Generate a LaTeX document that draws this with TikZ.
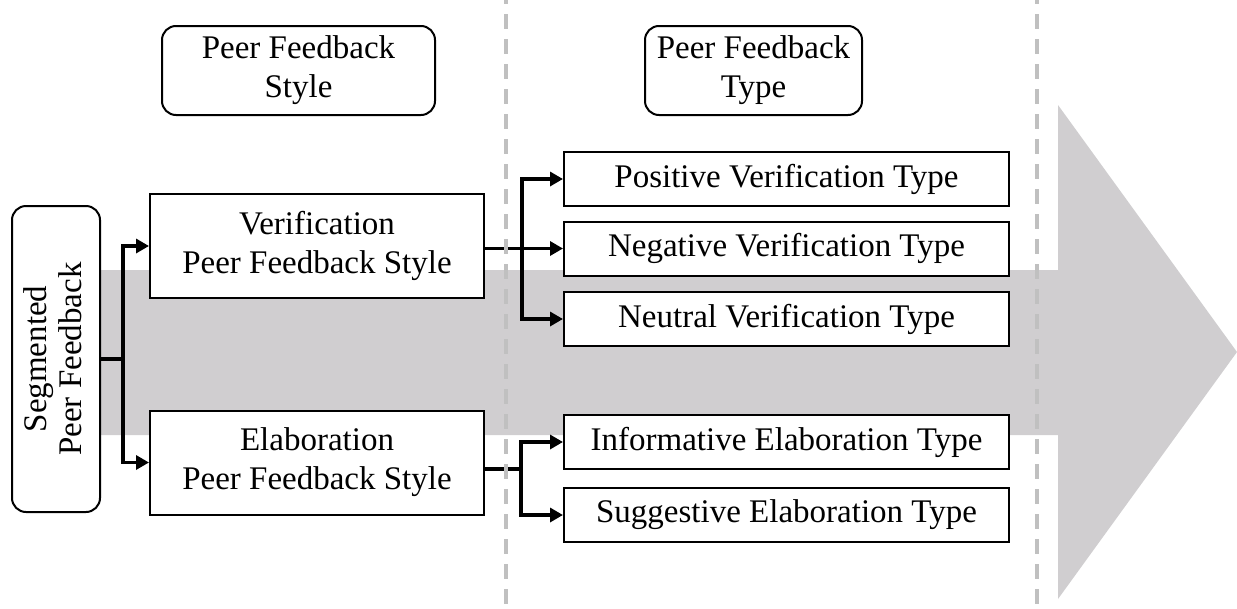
\documentclass[tikz,border=0pt]{standalone}
\usepackage{fontspec}
\setmainfont{Liberation Serif}
\usetikzlibrary{arrows.meta}
\definecolor{bandgray}{RGB}{208,206,208}
\definecolor{sepgray}{RGB}{192,192,192}
\begin{document}
\begin{tikzpicture}[x=1pt,y=-1pt,
  box/.style={draw=black,line width=2pt,fill=white,inner sep=0pt,align=center,font=\fontsize{33}{39}\selectfont},
  rbox/.style={box,rounded corners=14pt},
  typebox/.style={box,minimum width=445pt,minimum height=54pt},
  stylebox/.style={box,minimum width=334pt,minimum height=104pt},
  conn/.style={line width=3.5pt},
  arr/.style={conn,-{Triangle[length=13pt,width=14pt]}},
  sep/.style={draw=sepgray,line width=3.5pt,dash pattern=on 15pt off 10pt,dash phase=-14pt}]
\useasboundingbox (0,0) rectangle (1237,608);
% big gray arrow
\fill[bandgray] (40,270) -- (1058,270) -- (1058,105) -- (1237,352) -- (1058,599) -- (1058,435) -- (40,435) -- cycle;
% header boxes
\node[rbox,minimum width=273pt,minimum height=89pt] (pfs) at (298.5,70.5) {Peer Feedback\\Style};
\node[rbox,minimum width=217pt,minimum height=89pt] (pft) at (753.5,70.5) {Peer Feedback\\Type};
% left box
\node[rbox,minimum width=88pt,minimum height=306pt] (seg) at (56,359) {\rotatebox{90}{\begin{tabular}{@{}c@{}}Segmented\\[-4pt]Peer Feedback\end{tabular}}};
% style boxes
\node[stylebox] (verif) at (317,246) {Verification\\Peer Feedback Style};
\node[stylebox] (elab) at (317,462.5) {Elaboration\\Peer Feedback Style};
% type boxes
\node[typebox] (pos) at (786.5,179) {Positive Verification Type};
\node[typebox] (neg) at (786.5,248.5) {Negative Verification Type};
\node[typebox] (neu) at (786.5,319) {Neutral Verification Type};
\node[typebox] (inf) at (786.5,442) {Informative Elaboration Type};
\node[typebox] (sug) at (786.5,515) {Suggestive Elaboration Type};
% connectors
\coordinate (s1) at (123,359);
\draw[conn] (seg.east |- s1) -- (s1);
\draw[arr] (s1) |- (verif.west);
\draw[arr] (s1) |- (elab.west);
\coordinate (v1) at (522,248.5);
\draw[conn] (verif.east |- v1) -- (v1);
\draw[arr] (v1) |- (pos.west);
\draw[arr] (v1) -- (neg.west);
\draw[arr] (v1) |- (neu.west);
\coordinate (e1) at (521,469);
\draw[conn] (elab.east |- e1) -- (e1);
\draw[arr] (e1) |- (inf.west);
\draw[arr] (e1) |- (sug.west);
% dashed separators
\coordinate (d1t) at (506,0); \coordinate (d1b) at (506,608);
\coordinate (d2t) at (1037,0); \coordinate (d2b) at (1037,608);
\draw[sep] (d1t) -- (d1b);
\draw[sep] (d2t) -- (d2b);
\end{tikzpicture}
\end{document}
